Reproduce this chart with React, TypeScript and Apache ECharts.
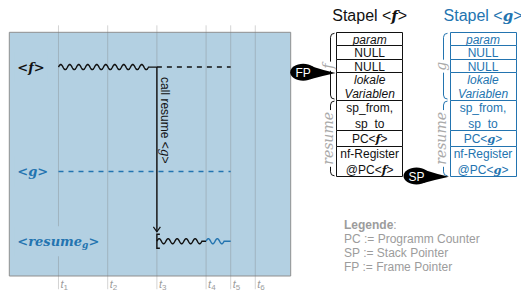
import React, { useEffect, useRef } from 'react';
import * as echarts from 'echarts';

// ---------------- data ----------------
const TIME_POINTS = [1, 2, 3, 4, 4.5, 5];
const TIME_LABELS = ['1', '2', '3', '4', '5', '6'];

const ROW_VALUES = [6, 3, 1];
const ROW_NAMES = ['f', 'g', 'resume'];
const ROW_SUBS = ['', '', 'g'];
const ROW_COLOR_IDX = [0, 1, 1];

// running (wavy) phases: [start, end, row, colour index]
const ACTIVE = [
  [1, 3, 6, 0],
  [3, 4, 1, 0],
  [4, 4.5, 1, 1],
];
// suspended (dashed) phases: [start, end, row, colour index]
const WAITING = [
  [3, 4.5, 6, 0],
  [1, 4.5, 3, 1],
];
// calls: [time, from row, arrow end, target row]
const CALLS = [[3, 6, 1.27, 1]];
const CALL_TEXT = 'call resume <%>';
const CALL_TARGET = 'g';

const STACKS = ['f', 'g'];
const STACK_TITLE = 'Stapel <%>';
const STACK_CELLS = ['param', 'NULL', 'NULL', 'lokale\nVariablen', 'sp_from,\nsp_to', 'PC<%>', 'nf-Register\n@PC<%>'];
const CELL_LINES = [1, 1, 1, 2, 2, 1, 2];
const CELL_ITALIC = [true, false, false, true, false, false, false];
const CELL_SECTION = [0, 0, 0, 0, 1, 1, 1];
const SECTION_NAMES = ['%', 'resume'];
// pointers: name, stack index, cell index whose top edge is pointed at (7 = bottom)
const POINTER_NAMES = ['FP', 'SP'];
const POINTER_STACK = [0, 1];
const POINTER_CELL = [3, 7];

const LEGEND_TITLE = 'Legende';
const LEGEND_LINES = ['PC := Programm Counter', 'SP := Stack Pointer', 'FP := Frame Pointer'];

// ---------------- layout / style ----------------
const SANS = 'Liberation Sans, Arial, sans-serif';
const SERIF = 'DejaVu Serif, serif';
const BLACK = '#111111';
const BLUE = '#2374b0';
const COLORS = [BLACK, BLUE];
const PANEL_BG = '#b3d0e2';
const GRAY = '#9c9c9c';

const PANEL = { left: 9.3, top: 32.3, width: 281.4, height: 246 };
const X_MAX = 5.72;
const Y_MAX = 7;
const LINE_H = [13.55, 15.35];
const CELL_W = 66;
const CELL_H = CELL_LINES.map((n, i) => n * LINE_H[CELL_SECTION[i]]);
const CELL_OFF: number[] = [];
CELL_H.reduce((acc, h, i) => { CELL_OFF[i] = acc; return acc + h; }, 0);
const STACK_TOTAL = CELL_H.reduce((a, b) => a + b, 0);
CELL_OFF[CELL_H.length] = STACK_TOTAL;
const SECTION_RANGE = [0, 1].map((s) => {
  const idx = CELL_SECTION.map((c, i) => (c === s ? i : -1)).filter((i) => i >= 0);
  return [CELL_OFF[idx[0]], CELL_OFF[idx[idx.length - 1]] + CELL_H[idx[idx.length - 1]]];
});

function wavePoints(x0: number, x1: number, y: number) {
  const period = 9;
  const amp = 2.6;
  const n = Math.floor((x1 - x0) / period);
  const wl = n * period;
  const pts: number[][] = [];
  for (let s = 0; s <= wl; s += 0.5) pts.push([x0 + s, y - amp * Math.sin((2 * Math.PI * s) / period)]);
  pts.push([x1, y]);
  return pts;
}

function richLine(line: string, base: string, v: string) {
  return line.split('%').map((p) => (p ? `{${base}|${p}}` : '')).join(`{v|${v}}`);
}
const snap = (v: number) => Math.round(v - 0.5) + 0.5;

export default function App() {
  const ref = useRef<HTMLDivElement>(null);
  useEffect(() => {
    if (!ref.current) return;
    const chart = echarts.init(ref.current, undefined, { renderer: 'svg' });

    const option: any = {
      animation: false,
      backgroundColor: '#ffffff',
      grid: [
        { left: PANEL.left, top: PANEL.top, width: PANEL.width, height: PANEL.height, show: true,
          backgroundColor: PANEL_BG, borderColor: '#8f8f8f', borderWidth: 1 },
        { left: 369.7, top: 32.3, width: 113.3, height: STACK_TOTAL, show: false },
      ],
      xAxis: [
        {
          type: 'value', gridIndex: 0, min: 0, max: X_MAX, interval: 0.5,
          axisLine: { show: false }, axisTick: { show: false }, splitLine: { show: false },
          axisLabel: {
            show: true, margin: 1, align: 'left', showMaxLabel: false,
            formatter: (v: number) => {
              const i = TIME_POINTS.indexOf(v);
              return i < 0 ? '' : `{t|t}{s|${TIME_LABELS[i]}}`;
            },
            rich: {
              t: { fontFamily: SANS, fontStyle: 'italic', fontSize: 11, color: GRAY, lineHeight: 14, padding: [0, 0, 0, 2] },
              s: { fontFamily: SANS, fontSize: 8, color: GRAY, lineHeight: 8, verticalAlign: 'bottom' },
            },
          },
        },
        { type: 'value', gridIndex: 1, min: 0, max: 1, show: false },
      ],
      yAxis: [
        { type: 'value', gridIndex: 0, min: 0, max: Y_MAX, interval: 1, show: false },
        { type: 'value', gridIndex: 1, min: 0, max: STACK_TOTAL, inverse: true, show: false },
      ],
      series: [
        // time lines
        {
          type: 'custom', xAxisIndex: 0, yAxisIndex: 0, z: 1, silent: true,
          data: TIME_POINTS.map((t) => [t, 0]), encode: { x: 0, y: 1 },
          renderItem: (_p: any, api: any) => {
            const a = api.coord([api.value(0), 7.2]);
            const b = api.coord([api.value(0), -0.38]);
            return { type: 'line', shape: { x1: a[0], y1: a[1], x2: b[0], y2: b[1] },
              style: { stroke: 'rgba(120,120,120,0.32)', lineWidth: 1 } };
          },
        },
        // row labels
        {
          type: 'custom', xAxisIndex: 0, yAxisIndex: 0, z: 3, silent: true,
          data: ROW_VALUES.map((v, i) => [0, v, i]), encode: { x: 0, y: 1 },
          renderItem: (_p: any, api: any) => {
            const i = api.value(2);
            const p = api.coord([0, api.value(1)]);
            const c = COLORS[ROW_COLOR_IDX[i]];
            const text = ROW_SUBS[i]
              ? `{r|<${ROW_NAMES[i]}}{s|${ROW_SUBS[i]}}{r|>}`
              : `{r|<${ROW_NAMES[i]}>}`;
            return {
              type: 'text', x: p[0] + 5, y: p[1],
              style: {
                text, align: 'left', verticalAlign: 'middle',
                backgroundColor: PANEL_BG, padding: [7, 3, 7, 3],
                rich: {
                  r: { fontFamily: SERIF, fontWeight: 'bold', fontStyle: 'italic', fontSize: 13, fill: c, color: c, lineHeight: 16 },
                  s: { fontFamily: SERIF, fontWeight: 'bold', fontStyle: 'italic', fontSize: 9, fill: c, color: c, lineHeight: 9, verticalAlign: 'bottom' },
                },
              },
            };
          },
        },
        // waiting (dashed)
        {
          type: 'custom', xAxisIndex: 0, yAxisIndex: 0, z: 2, silent: true,
          data: WAITING, encode: { x: [0, 1], y: 2 },
          renderItem: (_p: any, api: any) => {
            const a = api.coord([api.value(0), api.value(2)]);
            const b = api.coord([api.value(1), api.value(2)]);
            return { type: 'line', shape: { x1: a[0], y1: a[1], x2: b[0], y2: b[1] },
              style: { stroke: COLORS[api.value(3)], lineWidth: 1.5, lineDash: [5, 5] } };
          },
        },
        // active (wavy)
        {
          type: 'custom', xAxisIndex: 0, yAxisIndex: 0, z: 2, silent: true,
          data: ACTIVE, encode: { x: [0, 1], y: 2 },
          renderItem: (_p: any, api: any) => {
            const a = api.coord([api.value(0), api.value(2)]);
            const b = api.coord([api.value(1), api.value(2)]);
            return { type: 'polyline', shape: { points: wavePoints(a[0], b[0], a[1]) },
              style: { stroke: COLORS[api.value(3)], lineWidth: 1.4, fill: null } };
          },
        },
        // call arrow
        {
          type: 'custom', xAxisIndex: 0, yAxisIndex: 0, z: 2, silent: true,
          data: CALLS, encode: { x: 0, y: [1, 2] },
          renderItem: (_p: any, api: any) => {
            const a = api.coord([api.value(0), api.value(1)]);
            const b = api.coord([api.value(0), api.value(2)]);
            const r = api.coord([api.value(0), api.value(3)]);
            const x = a[0];
            const parts = CALL_TEXT.split('%');
            return {
              type: 'group',
              children: [
                { type: 'line', shape: { x1: x, y1: a[1], x2: x, y2: b[1] }, style: { stroke: BLACK, lineWidth: 1.4 } },
                { type: 'polyline', shape: { points: [[x - 3.5, b[1] - 5], [x, b[1]], [x + 3.5, b[1] - 5]] },
                  style: { stroke: BLACK, lineWidth: 1.2, fill: null } },
                { type: 'polyline', shape: { points: [[x + 3, r[1] - 7], [x, r[1] - 7], [x, r[1] + 7], [x + 3, r[1] + 7]] },
                  style: { stroke: BLACK, lineWidth: 1.4, fill: null } },
                {
                  type: 'text', x: x + 8, y: a[1] + 10, rotation: -Math.PI / 2,
                  style: {
                    text: `{a|${parts[0]}}{v|${CALL_TARGET}}{a|${parts[1]}}`,
                    align: 'left', verticalAlign: 'middle',
                    rich: {
                      a: { fontFamily: SANS, fontSize: 12, fill: BLACK, color: BLACK },
                      v: { fontFamily: SERIF, fontStyle: 'italic', fontSize: 12, fill: BLACK, color: BLACK },
                    },
                  },
                },
              ],
            };
          },
        },
        // stack cells
        {
          type: 'custom', xAxisIndex: 1, yAxisIndex: 1, z: 2, silent: true,
          data: STACKS.flatMap((_s, si) => STACK_CELLS.map((_c, ci) => [si, ci])),
          encode: { x: 0, y: 1 },
          renderItem: (_p: any, api: any) => {
            const si = api.value(0);
            const ci = api.value(1);
            const a = api.coord([si, CELL_OFF[ci]]);
            const b = api.coord([si, CELL_OFF[ci] + CELL_H[ci]]);
            const c = COLORS[si];
            const lh = LINE_H[CELL_SECTION[ci]] + 0.3;
            const base = CELL_ITALIC[ci] ? 'i' : 'n';
            const text = STACK_CELLS[ci].split('\n').map((l) => richLine(l, base, STACKS[si])).join('\n');
            const x0 = snap(a[0] - CELL_W / 2);
            const y0 = snap(a[1]);
            const y1 = snap(b[1]);
            return {
              type: 'group',
              children: [
                { type: 'rect', shape: { x: x0, y: y0, width: CELL_W, height: y1 - y0 },
                  style: { fill: '#ffffff', stroke: c, lineWidth: 1 } },
                {
                  type: 'text', x: a[0], y: (a[1] + b[1]) / 2 + 0.5,
                  style: {
                    text, align: 'center', verticalAlign: 'middle',
                    rich: {
                      n: { fontFamily: SANS, fontSize: 12, fill: c, color: c, lineHeight: lh },
                      i: { fontFamily: SANS, fontStyle: 'italic', fontSize: 12, fill: c, color: c, lineHeight: lh },
                      v: { fontFamily: SERIF, fontWeight: 'bold', fontStyle: 'italic', fontSize: 11.5, fill: c, color: c, lineHeight: lh },
                    },
                  },
                },
              ],
            };
          },
        },
        // braces + section labels
        {
          type: 'custom', xAxisIndex: 1, yAxisIndex: 1, z: 2, silent: true,
          data: STACKS.flatMap((_s, si) => [0, 1].map((sec) => [si, sec])),
          encode: { x: 0, y: 1 },
          renderItem: (_p: any, api: any) => {
            const si = api.value(0);
            const sec = api.value(1);
            const a = api.coord([si, SECTION_RANGE[sec][0]]);
            const b = api.coord([si, SECTION_RANGE[sec][1]]);
            const c = COLORS[si];
            const xb = snap(a[0] - CELL_W / 2 - 6.5);
            const y0 = a[1] + 1;
            const y1 = b[1] - 1;
            const ym = (y0 + y1) / 2;
            const d = `M${xb + 4},${y0} Q${xb},${y0} ${xb},${y0 + 4} L${xb},${ym - 3} Q${xb},${ym} ${xb - 3},${ym} ` +
              `Q${xb},${ym} ${xb},${ym + 3} L${xb},${y1 - 4} Q${xb},${y1} ${xb + 4},${y1}`;
            const label = SECTION_NAMES[sec].replace('%', STACKS[si]);
            return {
              type: 'group',
              children: [
                { type: 'path', shape: { pathData: d }, style: { stroke: c, fill: null, lineWidth: 1 } },
                {
                  type: 'text', x: xb - 2.5, y: ym, rotation: Math.PI / 2,
                  style: {
                    text: label, align: 'center', verticalAlign: 'middle',
                    fontFamily: SERIF, fontStyle: 'italic', fontSize: 14, fill: '#aaaaaa',
                    backgroundColor: '#ffffff', padding: [0, 2, 0, 2],
                  },
                },
              ],
            };
          },
        },
        // stack titles
        {
          type: 'custom', xAxisIndex: 1, yAxisIndex: 1, z: 2, silent: true,
          data: STACKS.map((_s, si) => [si, 0]), encode: { x: 0, y: 1 },
          renderItem: (_p: any, api: any) => {
            const si = api.value(0);
            const a = api.coord([si, 0]);
            const c = COLORS[si];
            return {
              type: 'text', x: a[0], y: a[1] - 16.5,
              style: {
                text: richLine(STACK_TITLE, 'n', STACKS[si]), align: 'center', verticalAlign: 'middle',
                rich: {
                  n: { fontFamily: SANS, fontSize: 16, fill: c, color: c },
                  v: { fontFamily: SERIF, fontWeight: 'bold', fontStyle: 'italic', fontSize: 15, fill: c, color: c },
                },
              },
            };
          },
        },
        // pointers
        {
          type: 'custom', xAxisIndex: 1, yAxisIndex: 1, z: 4, silent: true,
          data: POINTER_NAMES.map((_n, i) => [POINTER_STACK[i], CELL_OFF[POINTER_CELL[i]], i]),
          encode: { x: 0, y: 1 },
          renderItem: (_p: any, api: any) => {
            const i = api.value(2);
            const a = api.coord([api.value(0), api.value(1)]);
            const tx = a[0] - CELL_W / 2 - 1;
            const ty = a[1];
            const cx = tx - 32.5;
            const cy = ty - 0.8;
            const d = `M${cx + 8},${cy - 6} Q${cx + 20},${cy - 2} ${tx},${ty} Q${cx + 18},${cy + 4} ${cx + 7},${cy + 7} Z`;
            return {
              type: 'group',
              children: [
                { type: 'path', shape: { pathData: d }, style: { fill: '#000000' } },
                { type: 'ellipse', shape: { cx, cy, rx: 13, ry: 8.5 }, style: { fill: '#000000' } },
                { type: 'text', x: cx, y: cy + 0.5,
                  style: { text: POINTER_NAMES[i], align: 'center', verticalAlign: 'middle',
                    fontFamily: SANS, fontSize: 12, fill: '#ffffff' } },
              ],
            };
          },
        },
      ],
      graphic: [
        {
          type: 'text', x: 344, y: 225,
          style: {
            text: `{b|${LEGEND_TITLE}}{n|:}`, verticalAlign: 'middle',
            rich: {
              b: { fontFamily: SANS, fontWeight: 'bold', fontSize: 12, fill: GRAY, color: GRAY },
              n: { fontFamily: SANS, fontSize: 12, fill: GRAY, color: GRAY },
            },
          },
        },
        ...LEGEND_LINES.map((l, i) => ({
          type: 'text', x: 344, y: 239.3 + i * 13.7,
          style: { text: l, verticalAlign: 'middle', fontFamily: SANS, fontSize: 12, fill: GRAY },
        })),
      ],
    };
    chart.setOption(option);
    return () => chart.dispose();
  }, []);
  return <div ref={ref} style={{ position: 'fixed', left: 0, top: 0, width: 521, height: 291 }} />;
}
